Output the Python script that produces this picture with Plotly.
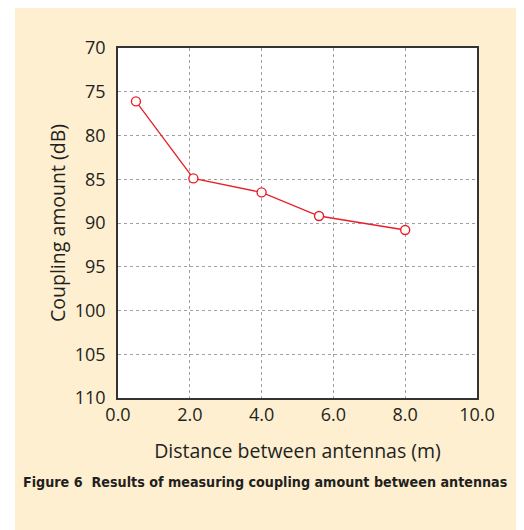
import plotly.graph_objects as go

distance_m = [0.5, 2.1, 4.0, 5.6, 8.0]
coupling_db = [76.1, 84.9, 86.5, 89.2, 90.8]
x_ticks = [0, 2, 4, 6, 8, 10]
x_tick_labels = ["0.0", "2.0", "4.0", "6.0", "8.0", "10.0"]
y_ticks = [70, 75, 80, 85, 90, 95, 100, 105, 110]

# page body adds an 8px offset; the figure is sized to fill the rest of the window
OFF = 8
W, H = 524 - OFF, 530 - OFF
L, R, T, B = 118 - OFF, 47, 48 - OFF, 132
pw, ph = W - L - R, H - T - B

def px(xs):
    return (xs - OFF - L) / pw

def py(ys):
    return 1 - (ys - OFF - T) / ph

cream = "#feefd1"
txt = "#231f20"
font_main = "Open Sans"

fig = go.Figure()
fig.add_trace(go.Scatter(
    x=distance_m, y=coupling_db, mode="lines+markers",
    line=dict(color="#e8202a", width=1.3),
    marker=dict(symbol="circle", size=9, color="white", line=dict(width=1.4, color="#e8202a")),
    showlegend=False, cliponaxis=False,
))

fig.update_xaxes(
    range=[0, 10], tickvals=x_ticks, ticktext=x_tick_labels,
    showgrid=True, gridcolor="#a0a0a0", griddash="dot", gridwidth=1,
    showline=True, linecolor="#333333", linewidth=1.5, mirror=True,
    zeroline=False, ticks="", tickfont=dict(family=font_main, size=18, color=txt),
    ticklabelstandoff=0, automargin=False,
    title=dict(text="Distance between antennas (m)", font=dict(family=font_main, size=19.5, color=txt), standoff=19),
)
fig.update_yaxes(
    range=[110, 70], tickvals=y_ticks,
    showgrid=True, gridcolor="#a0a0a0", griddash="dot", gridwidth=1,
    showline=True, linecolor="#333333", linewidth=1.5, mirror=True,
    zeroline=False, ticks="", tickfont=dict(family=font_main, size=18, color=txt),
    ticklabelstandoff=7, automargin=False,
    title=dict(text="Coupling amount (dB)", font=dict(family=font_main, size=19.5, color=txt), standoff=4),
)

fig.add_annotation(
    x=px(21), y=py(482), xref="paper", yref="paper", xanchor="left", yanchor="middle",
    text="<b>Figure 6  Results of measuring coupling amount between antennas</b>",
    showarrow=False,
    font=dict(family="DejaVu Sans Condensed, Liberation Sans Narrow, Arial Narrow, sans-serif", size=14.2, color=txt),
)

fig.update_layout(
    width=W, height=H, margin=dict(l=L, r=R, t=T, b=B),
    paper_bgcolor=cream, plot_bgcolor="white",
    shapes=[
        dict(type="rect", xref="paper", yref="paper", x0=px(OFF), x1=px(15), y0=py(530), y1=py(OFF),
             fillcolor="white", line=dict(width=0), layer="below"),
        dict(type="rect", xref="paper", yref="paper", x0=px(522), x1=px(524), y0=py(530), y1=py(OFF),
             fillcolor="white", line=dict(width=0), layer="below"),
    ],
)

fig.write_html("out.html")
